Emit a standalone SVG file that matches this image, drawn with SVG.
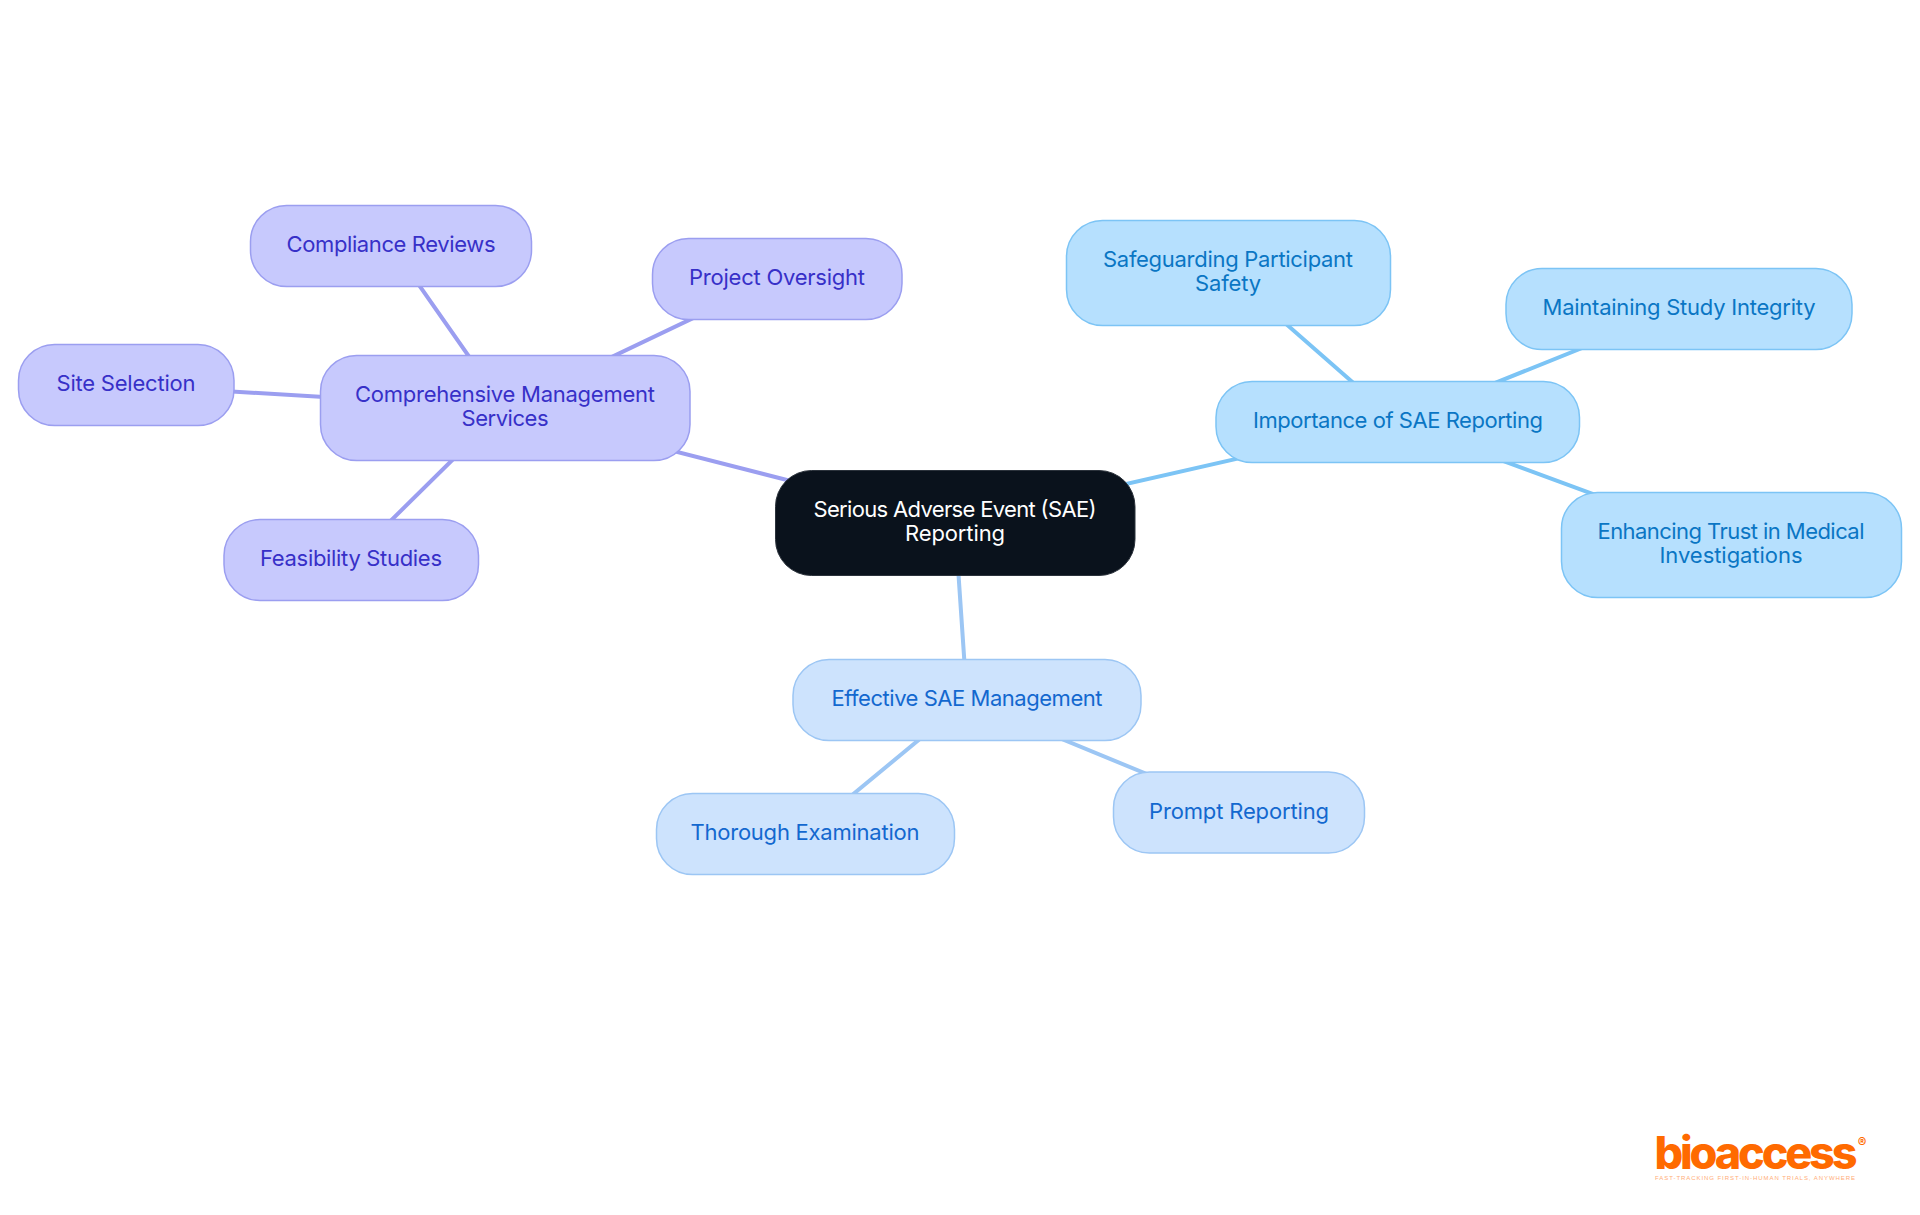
<svg xmlns="http://www.w3.org/2000/svg" width="1920" height="1215" viewBox="0 0 1920 1215">
<style>
text{font-family:"Inter","Noto Sans","Liberation Sans",sans-serif;font-size:22px;font-weight:400;text-anchor:middle}
.l{fill:none;stroke-width:4}
.p rect{fill:#c7c9fd;stroke:#9b9ef0;stroke-width:1.5}.p text{fill:#3730c8}
.b rect{fill:#b6e0fe;stroke:#7cc4f5;stroke-width:1.5}.b text{fill:#0a76c4}
.c rect{fill:#cde3fd;stroke:#9cc6f4;stroke-width:1.5}.c text{fill:#1368cf}
.pl{stroke:#9b9ef0}.bl{stroke:#7cc4f5}.cl{stroke:#9cc6f4}
</style>
<rect width="1920" height="1215" fill="#fff"/>
<g id="connectors">
<path class="l pl" d="M955 523L505 408M505 408L777 278M505 408L391 245M505 408L126 385M505 408L351 560"/>
<path class="l bl" d="M955 523L1398 422M1398 422L1228 273M1398 422L1679 309M1398 422L1731 545"/>
<path class="l cl" d="M955 523L967 700M967 700L805 834M967 700L1239 812"/>
</g>
<g id="root"><rect x="775.500" y="470.500" width="359.500" height="105" rx="36" fill="#0a121c" stroke="#2b323b" stroke-width="1"/><text x="955" y="517" textLength="283" fill="#fff">Serious Adverse Event (SAE)</text><text x="955" y="541" textLength="100" fill="#fff">Reporting</text></g>
<g id="mgmt" class="p"><rect x="320.500" y="355.500" width="369.500" height="105" rx="36"/><text x="505" y="402" textLength="300">Comprehensive Management</text><text x="505" y="426" textLength="87">Services</text></g>
<g id="oversight" class="p"><rect x="652.500" y="238.500" width="249.500" height="81" rx="36"/><text x="777" y="285" textLength="176">Project Oversight</text></g>
<g id="compliance" class="p"><rect x="250.500" y="205.500" width="281" height="81" rx="36"/><text x="391" y="252" textLength="209">Compliance Reviews</text></g>
<g id="site" class="p"><rect x="18.500" y="344.500" width="215.500" height="81" rx="36"/><text x="126" y="391" textLength="139">Site Selection</text></g>
<g id="feasibility" class="p"><rect x="224" y="519.500" width="254.500" height="81" rx="36"/><text x="351" y="566" textLength="182">Feasibility Studies</text></g>
<g id="importance" class="b"><rect x="1216" y="381.500" width="363.500" height="81" rx="36"/><text x="1398" y="428" textLength="290">Importance of SAE Reporting</text></g>
<g id="safeguarding" class="b"><rect x="1066.500" y="220.500" width="324" height="105" rx="36"/><text x="1228" y="267" textLength="250">Safeguarding Participant</text><text x="1228" y="291" textLength="66">Safety</text></g>
<g id="integrity" class="b"><rect x="1506" y="268.500" width="346" height="81" rx="36"/><text x="1679" y="315" textLength="273">Maintaining Study Integrity</text></g>
<g id="trust" class="b"><rect x="1561.500" y="492.500" width="340" height="105" rx="36"/><text x="1731" y="539" textLength="267">Enhancing Trust in Medical</text><text x="1731" y="563" textLength="143">Investigations</text></g>
<g id="effective" class="c"><rect x="793" y="659.500" width="348" height="81" rx="36"/><text x="967" y="706" textLength="271">Effective SAE Management</text></g>
<g id="thorough" class="c"><rect x="656.500" y="793.500" width="298" height="81" rx="36"/><text x="805" y="840" textLength="229">Thorough Examination</text></g>
<g id="prompt" class="c"><rect x="1113.500" y="772" width="251" height="81" rx="36"/><text x="1239" y="819" textLength="180">Prompt Reporting</text></g>
<g id="logo">
<text x="1756" y="1169" textLength="203" style="font-size:45px;font-weight:800;fill:#ff6a00">bioaccess</text>
<text x="1862" y="1147" style="font-size:13px;font-weight:700;fill:#ff6a00">®</text>
<text x="1755" y="1180" textLength="200" style="font-family:'Liberation Sans',sans-serif;font-size:6px;font-weight:400;fill:#ffae78">FAST-TRACKING FIRST-IN-HUMAN TRIALS, ANYWHERE</text>
</g>
</svg>
